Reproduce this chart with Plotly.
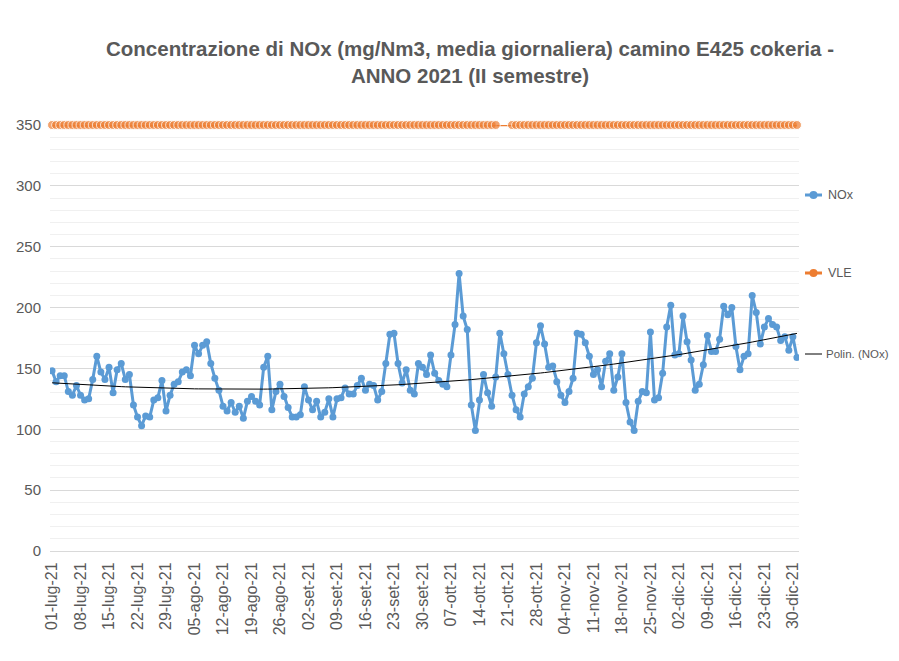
import numpy as np
import pandas as pd
import plotly.graph_objects as go

# ---- data ----
start_date = "2021-07-01"
n_days = 184

nox = [
    148, 139, 144, 144, 131, 128, 136, 128, 124, 125,
    141, 160, 147, 141, 151, 130, 149, 154, 141, 145,
    120, 110, 103, 111, 110, 124, 126, 140, 115, 128,
    137, 139, 147, 149, 144, 169, 162, 169, 172, 154,
    142, 132, 119, 115, 122, 114, 119, 109, 123, 127,
    123, 120, 151, 160, 116, 131, 137, 127, 118, 110,
    110, 112, 135, 124, 116, 123, 110, 114, 125, 110,
    125, 126, 134, 129, 129, 136, 142, 132, 137, 136,
    124, 131, 154, 178, 179, 154, 138, 149, 132, 129,
    154, 151, 145, 161, 146, 140, 137, 135, 161, 186,
    228, 193, 182, 120, 99, 124, 145, 130, 119, 143,
    179, 162, 145, 128, 116, 110, 129, 135, 142, 171,
    185, 170, 151, 152, 139, 128, 122, 131, 142, 179,
    178, 171, 160, 145, 149, 135, 156, 162, 132, 143,
    162, 122, 106, 99, 123, 131, 130, 180, 124, 126,
    146, 184, 202, 161, 162, 193, 172, 157, 132, 137,
    153, 177, 164, 164, 174, 201, 194, 200, 168, 149,
    160, 162, 210, 196, 170, 184, 191, 186, 184, 173,
    176, 165, 176, 159,
]
vle = [350] * n_days

y_ticks = [0, 50, 100, 150, 200, 250, 300, 350]
x_tick_labels = [
    "01-lug-21", "08-lug-21", "15-lug-21", "22-lug-21", "29-lug-21",
    "05-ago-21", "12-ago-21", "19-ago-21", "26-ago-21",
    "02-set-21", "09-set-21", "16-set-21", "23-set-21", "30-set-21",
    "07-ott-21", "14-ott-21", "21-ott-21", "28-ott-21",
    "04-nov-21", "11-nov-21", "18-nov-21", "25-nov-21",
    "02-dic-21", "09-dic-21", "16-dic-21", "23-dic-21", "30-dic-21",
]

series_names = ["NOx", "VLE", "Polin. (NOx)"]
title_text = ("Concentrazione di NOx (mg/Nm3, media giornaliera) camino E425 cokeria -"
              "<br>ANNO 2021 (II semestre)")

# ---- derived ----
dates = pd.date_range(start_date, periods=n_days, freq="D")
tick_vals = dates[::7][:len(x_tick_labels)]

# polynomial (order 2) trendline, as in the spreadsheet
idx = np.arange(n_days)
coef = np.polyfit(idx, np.array(nox, dtype=float), 2)
trend = np.polyval(coef, idx)

# VLE markers missing on a few days (line still drawn)
vle_sizes = [0 if d in (110, 111, 112) else 9 for d in range(n_days)]

BLUE = "#5B9BD5"
ORANGE = "#ED7D31"
GREY = "#595959"
FONT = "Liberation Sans"

# figure geometry (page has an 8px body margin)
W, H = 883, 645
ML, MT, PW, PH = 42, 117, 749, 426
MR = W - ML - PW
MB = H - MT - PH


def px_x(px):
    return (px - ML) / PW


def px_y(py):
    return (MT + PH - py) / PH


fig = go.Figure()
fig.add_trace(go.Scatter(
    x=dates, y=nox, name=series_names[0], mode="lines+markers",
    line=dict(color=BLUE, width=3), marker=dict(color=BLUE, size=7),
))
fig.add_trace(go.Scatter(
    x=dates, y=vle, name=series_names[1], mode="lines+markers",
    line=dict(color=ORANGE, width=2.5),
    marker=dict(color=ORANGE, size=vle_sizes),
    cliponaxis=False,
))
fig.add_trace(go.Scatter(
    x=dates, y=trend, name=series_names[2], mode="lines",
    line=dict(color="black", width=1),
))

# manual legend (entries spread down the right side, like the original)
legend_items = [
    (series_names[0], BLUE, 3, True, 187, 797, 814, 818, 12.5),
    (series_names[1], ORANGE, 3, True, 265, 797, 814, 818, 12.5),
    (series_names[2], "black", 1, False, 346, 797, 814, 816, 11.5),
]
shapes = []
annotations = []
for name, col, lw, mk, py, x0, x1, xt, fs in legend_items:
    shapes.append(dict(type="line", xref="paper", yref="paper",
                       x0=px_x(x0), x1=px_x(x1), y0=px_y(py), y1=px_y(py),
                       line=dict(color=col, width=lw)))
    if mk:
        shapes.append(dict(type="circle", xref="paper", yref="paper",
                           xsizemode="pixel", ysizemode="pixel",
                           xanchor=px_x((x0 + x1) / 2), yanchor=px_y(py),
                           x0=-4, x1=4, y0=-4, y1=4,
                           fillcolor=col, line=dict(color=col, width=0)))
    annotations.append(dict(text=name, xref="paper", yref="paper",
                            x=px_x(xt), y=px_y(py), xanchor="left", yanchor="middle",
                            showarrow=False,
                            font=dict(family=FONT, size=fs, color=GREY)))

half_day = pd.Timedelta(hours=12)
fig.update_layout(
    width=W, height=H,
    margin=dict(l=ML, r=MR, t=MT, b=MB, autoexpand=False),
    paper_bgcolor="white", plot_bgcolor="white",
    font=dict(family=FONT, color=GREY, size=14),
    title=dict(
        text="<b>" + title_text + "</b>",
        x=462 / W, xanchor="center", xref="container",
        y=1 - 48 / H, yanchor="middle", yref="container",
        font=dict(family=FONT, size=20.5, color=GREY),
    ),
    showlegend=False,
    xaxis=dict(
        range=[dates[0] - half_day, dates[-1] + half_day],
        tickmode="array", tickvals=tick_vals, ticktext=x_tick_labels,
        tickangle=-90, tickfont=dict(size=16, color=GREY),
        showgrid=False, showline=True, linecolor="#d9d9d9", linewidth=1,
        ticks="", zeroline=False, ticklabelstandoff=4,
    ),
    yaxis=dict(
        range=[0, 350], tickmode="array", tickvals=y_ticks,
        tickfont=dict(size=15, color=GREY),
        showgrid=True, gridcolor="#d9d9d9", gridwidth=1,
        minor=dict(dtick=10, showgrid=True, gridcolor="#f0f0f0", gridwidth=1),
        zeroline=False, showline=False, ticks="", ticklabelstandoff=8,
    ),
    shapes=shapes,
    annotations=annotations,
)

fig.write_html("out.html")
